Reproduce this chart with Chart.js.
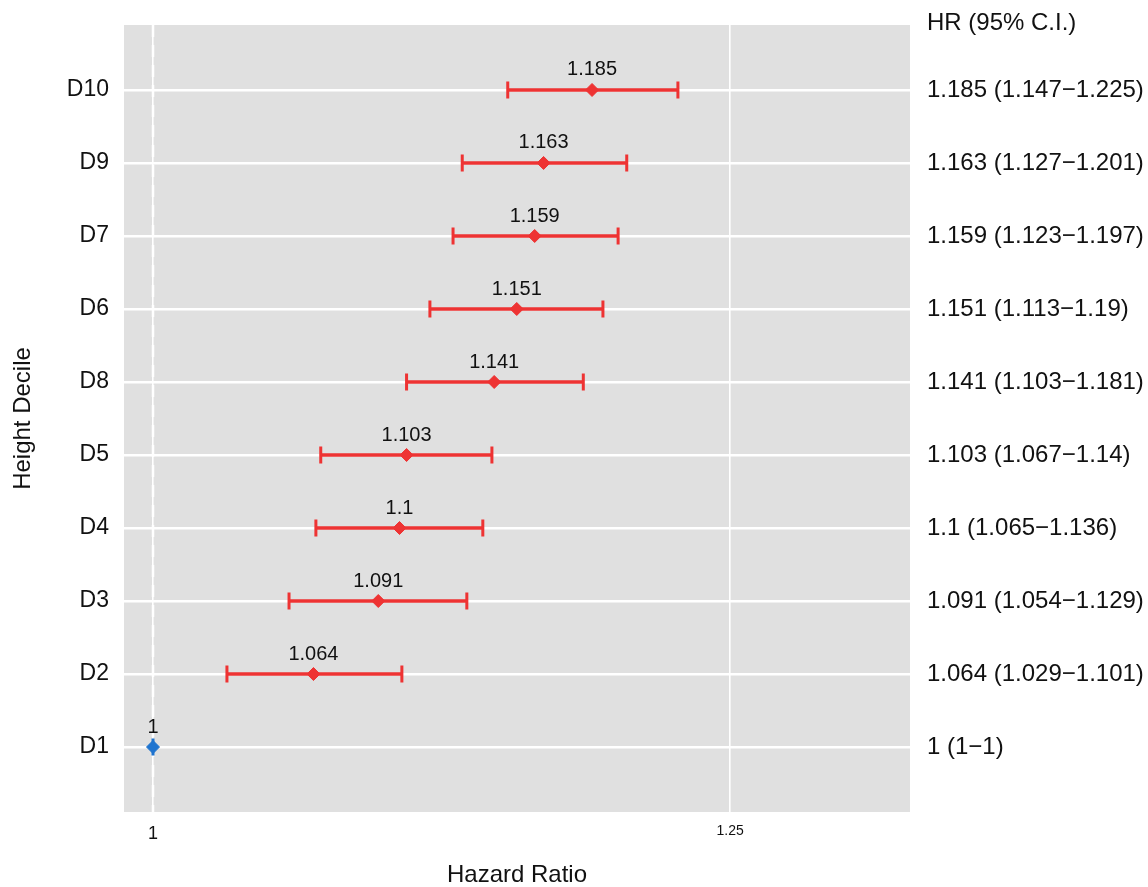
<!DOCTYPE html>
<html>
<head>
<meta charset="utf-8">
<script src="https://cdn.jsdelivr.net/npm/chart.js@4"></script>
<style>
  html, body { margin: 0; padding: 0; background: #ffffff; }
  #wrap { width: 1148px; height: 887px; }
</style>
</head>
<body>
<div id="wrap"><canvas id="c" width="1148" height="887" style="width:1148px;height:887px"></canvas></div>
<script>
// ---- data (top row to bottom row) ----
const deciles = ['D10', 'D9', 'D7', 'D6', 'D8', 'D5', 'D4', 'D3', 'D2', 'D1'];
const hr      = [1.185, 1.163, 1.159, 1.151, 1.141, 1.103, 1.1, 1.091, 1.064, 1];
const lower   = [1.147, 1.127, 1.123, 1.113, 1.103, 1.067, 1.065, 1.054, 1.029, 1];
const upper   = [1.225, 1.201, 1.197, 1.19, 1.181, 1.14, 1.136, 1.129, 1.101, 1];
const xTicks  = [1, 1.25];
const xTickLabels = ['1', '1.25'];
const headerText = 'HR (95% C.I.)';
const xTitle = 'Hazard Ratio';
const yTitle = 'Height Decile';

const FONT = '"Liberation Sans", Arial, Helvetica, sans-serif';
const RED = '#EE3333';
const BLUE = '#1F74CF';
const PANEL = '#E0E0E0';

const n = deciles.length;
const rowY = deciles.map((d, i) => n - 1 - i);
const isRef = hr.map((v, i) => lower[i] === upper[i] && v === 1);
const colours = isRef.map(r => r ? BLUE : RED);
const ciText = hr.map((v, i) => `${v} (${lower[i]}\u2212${upper[i]})`);
const labelByRow = {};
const ciByRow = {};
rowY.forEach((y, i) => { labelByRow[y] = deciles[i]; ciByRow[y] = ciText[i]; });

const forestPlugin = {
  id: 'forest',
  beforeDraw(chart) {
    const { ctx, chartArea: a } = chart;
    ctx.save();
    ctx.fillStyle = PANEL;
    ctx.fillRect(a.left, a.top, a.right - a.left, a.bottom - a.top);
    ctx.restore();
  },
  beforeDatasetsDraw(chart) {
    const { ctx, chartArea: a, scales } = chart;
    const xs = scales.x, ys = scales.y;
    ctx.save();
    // dashed reference line at HR = 1
    const x1 = xs.getPixelForValue(1);
    ctx.strokeStyle = '#FFFFFF';
    ctx.lineWidth = 2.5;
    ctx.setLineDash([12, 8]);
    ctx.beginPath();
    ctx.moveTo(x1, a.top);
    ctx.lineTo(x1, a.bottom);
    ctx.stroke();
    ctx.setLineDash([]);
    // error bars
    for (let i = 0; i < n; i++) {
      const y = ys.getPixelForValue(rowY[i]);
      const xl = xs.getPixelForValue(lower[i]);
      const xu = xs.getPixelForValue(upper[i]);
      ctx.strokeStyle = colours[i];
      ctx.lineWidth = 3.5;
      ctx.beginPath();
      ctx.moveTo(xl, y); ctx.lineTo(xu, y);
      ctx.stroke();
      ctx.lineWidth = 3;
      ctx.beginPath();
      ctx.moveTo(xl, y - 8.5); ctx.lineTo(xl, y + 8.5);
      ctx.moveTo(xu, y - 8.5); ctx.lineTo(xu, y + 8.5);
      ctx.stroke();
    }
    ctx.restore();
  },
  afterDatasetsDraw(chart) {
    const { ctx, chartArea: a, scales } = chart;
    const xs = scales.x, ys = scales.y;
    ctx.save();
    ctx.fillStyle = '#111111';
    ctx.textAlign = 'center';
    ctx.textBaseline = 'middle';
    ctx.font = `20px ${FONT}`;
    for (let i = 0; i < n; i++) {
      const x = xs.getPixelForValue(hr[i]);
      const y = ys.getPixelForValue(rowY[i]);
      ctx.fillText(String(hr[i]), x, y - 20);
    }
    ctx.textAlign = 'left';
    ctx.font = `24px ${FONT}`;
    ctx.fillText(headerText, a.right + 17, a.top - 2);
    ctx.restore();
  }
};

const noVPad = s => { s.paddingTop = 0; s.paddingBottom = 0; };

new Chart(document.getElementById('c'), {
  type: 'scatter',
  data: {
    datasets: [{
      data: hr.map((v, i) => ({ x: v, y: rowY[i] })),
      pointStyle: 'rectRot',
      pointRadius: 6.5,
      pointHoverRadius: 6.5,
      pointBackgroundColor: colours,
      pointBorderColor: colours,
      pointBorderWidth: 1,
      showLine: false
    }]
  },
  options: {
    responsive: false,
    maintainAspectRatio: false,
    animation: false,
    devicePixelRatio: 1,
    layout: { padding: { top: 25, right: 0, bottom: 0, left: 0 } },
    plugins: { legend: { display: false }, tooltip: { enabled: false } },
    scales: {
      x: {
        type: 'logarithmic',
        min: 0.98885,
        max: 1.340,
        afterBuildTicks: s => { s.ticks = xTicks.map(v => ({ value: v })); },
        afterFit: s => { s.height = 75; s.paddingLeft = 0; s.paddingRight = 0; },
        border: { display: false },
        grid: { color: '#FFFFFF', lineWidth: 1.6, drawTicks: false },
        ticks: {
          padding: 11,
          color: '#111111',
          autoSkip: false,
          maxRotation: 0,
          callback: (v) => { const k = xTicks.indexOf(v); return k >= 0 ? xTickLabels[k] : ''; },
          font: (c) => (c.tick && c.tick.value === 1)
            ? { family: FONT, size: 18 }
            : { family: FONT, size: 14 }
        },
        title: {
          display: true, text: xTitle, color: '#111111',
          font: { family: FONT, size: 24, lineHeight: 1 },
          padding: { top: 0, bottom: 0 }
        }
      },
      y: {
        type: 'linear',
        position: 'left',
        min: -0.89,
        max: 9.89,
        afterBuildTicks: s => { s.ticks = rowY.slice().reverse().map(v => ({ value: v })); },
        afterFit: s => { s.width = 124; noVPad(s); },
        border: { display: false },
        grid: { color: '#FFFFFF', lineWidth: 2.6, drawTicks: false },
        ticks: {
          padding: 15,
          color: '#111111',
          autoSkip: false,
          font: { family: FONT, size: 23 },
          callback: (v) => labelByRow[v] || ''
        },
        title: {
          display: true, text: yTitle, color: '#111111',
          font: { family: FONT, size: 24, lineHeight: 1 },
          padding: { top: 11, bottom: 0 }
        }
      },
      y2: {
        type: 'linear',
        position: 'right',
        display: true,
        min: -0.89,
        max: 9.89,
        afterBuildTicks: s => { s.ticks = rowY.slice().reverse().map(v => ({ value: v })); },
        afterFit: s => { s.width = 238; noVPad(s); },
        border: { display: false },
        grid: { display: false, drawTicks: false },
        ticks: {
          padding: 17,
          color: '#111111',
          autoSkip: false,
          font: { family: FONT, size: 24 },
          callback: (v) => ciByRow[v] || ''
        }
      }
    }
  },
  plugins: [forestPlugin]
});
</script>
</body>
</html>
